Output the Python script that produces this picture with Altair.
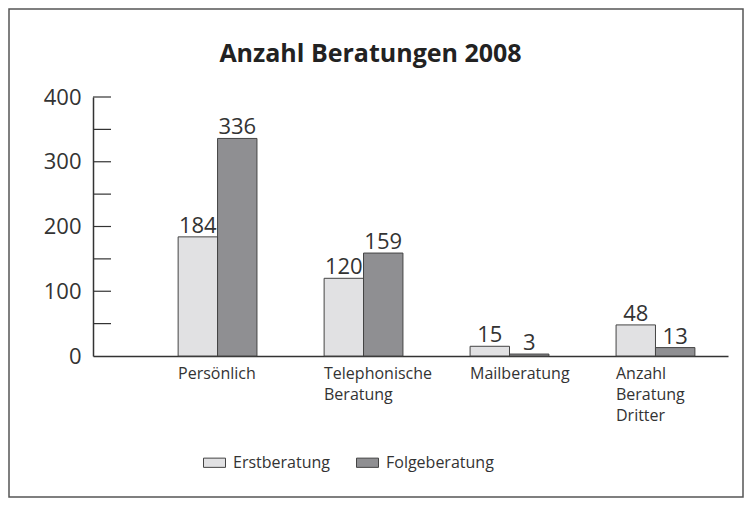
import altair as alt
import pandas as pd

categories = ["Persönlich", "Telephonische Beratung", "Mailberatung", "Anzahl Beratung Dritter"]
series = ["Erstberatung", "Folgeberatung"]
erst = [184, 120, 15, 48]
folge = [336, 159, 3, 13]
y_labels = [0, 100, 200, 300, 400]
y_minor = [50, 100, 150, 200, 250, 300, 350, 400]
colors = ["#e1e1e3", "#8f8f92"]

rows = []
for c, a, b in zip(categories, erst, folge):
    rows.append({"cat": c, "series": series[0], "value": a})
    rows.append({"cat": c, "series": series[1], "value": b})
df = pd.DataFrame(rows)
ticks_df = pd.DataFrame({"v": y_minor})
border_df = pd.DataFrame({"k": [0]})

FONT = "Open Sans"
yscale = alt.Scale(domain=[0, 400], nice=False)

x_enc = alt.X(
    "cat:N",
    sort=categories,
    scale=alt.Scale(paddingInner=0.46, paddingOuter=0.405, align=0.72),
    axis=alt.Axis(
        title=None, ticks=False, grid=False, labelAngle=0, labelAlign="left",
        labelOffset=-39.5, labelExpr="split(datum.label, ' ')",
        labelFont=FONT, labelFontSize=16, labelColor="#333", labelPadding=9,
        labelBaseline="top", labelLineHeight=21, domainColor="#333", domainWidth=1.5,
    ),
)
xoff = alt.XOffset("series:N", sort=series, scale=alt.Scale(paddingInner=0, paddingOuter=0))

bars = alt.Chart(df).mark_bar(stroke="#444", strokeWidth=1).encode(
    x=x_enc,
    xOffset=xoff,
    y=alt.Y(
        "value:Q", scale=yscale,
        axis=alt.Axis(
            title=None, values=y_labels, ticks=False, grid=False,
            labelFont=FONT, labelFontSize=22, labelColor="#333", labelPadding=12,
            domainColor="#333", domainWidth=1.5,
        ),
    ),
    color=alt.Color(
        "series:N", sort=series,
        scale=alt.Scale(domain=series, range=colors),
        legend=alt.Legend(title=None),
    ),
)

labels = alt.Chart(df).mark_text(
    font=FONT, fontSize=22, color="#333", baseline="alphabetic", dy=-4
).encode(
    x=alt.X("cat:N", sort=categories),
    xOffset=alt.XOffset("series:N", sort=series),
    y=alt.Y("value:Q", scale=yscale),
    text="value:Q",
)

tick_rules = alt.Chart(ticks_df).mark_rule(color="#333", strokeWidth=1.2).encode(
    y=alt.Y("v:Q", scale=yscale),
    x=alt.value(0),
    x2=alt.value(18),
)

border = alt.Chart(border_df).mark_rect(
    fillOpacity=0, stroke="#555", strokeWidth=1.5
).encode(
    x=alt.value(-84),
    x2=alt.value(650),
    y=alt.value(-88),
    y2=alt.value(400),
)

chart = alt.layer(bars, labels, tick_rules, border).properties(
    width=635,
    height=259,
    padding={"left": 85, "top": 89, "right": 16, "bottom": 142},
    autosize=alt.AutoSizeParams(type="none"),
    title=alt.TitleParams(
        "Anzahl Beratungen 2008", font=FONT, fontSize=25, fontWeight="bold",
        color="#222", anchor="middle", dx=-40, offset=-79, baseline="alphabetic",
    ),
).configure_view(strokeWidth=0).configure_legend(
    orient="none", legendX=110, legendY=354, direction="horizontal",
    labelFont=FONT, labelFontSize=16, labelColor="#333",
    symbolType="M-1,-0.42H1V0.42H-1Z", symbolSize=484,
    symbolStrokeColor="#444", symbolStrokeWidth=1, symbolOpacity=1,
    labelOffset=7, columnPadding=24, padding=0,
)

chart.save("out.html", embed_options={"renderer": "svg", "actions": False})
